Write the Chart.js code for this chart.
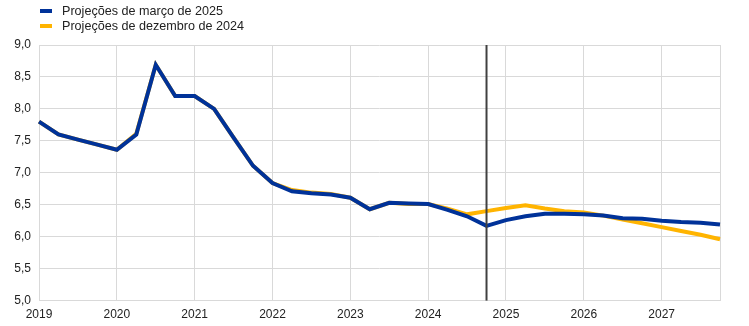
<!DOCTYPE html>
<html>
<head>
<meta charset="utf-8">
<script src="https://cdn.jsdelivr.net/npm/chart.js@4/dist/chart.umd.min.js"></script>
<style>
  html, body { margin: 0; padding: 0; background: #fff; }
  #wrap { position: relative; width: 749px; height: 326px; }
  #legend { position: absolute; left: 40px; top: 4px; font: 12.6px "Liberation Sans", Arial, sans-serif; color: #222; }
  #legend div { height: 15px; line-height: 15px; white-space: nowrap; }
  #legend span { display: inline-block; width: 12px; height: 4px; margin-right: 10px; vertical-align: middle; position: relative; top: -1px; }
</style>
</head>
<body>
<div id="wrap">
  <div id="legend">
    <div><span style="background:#003299"></span>Projeções de março de 2025</div>
    <div><span style="background:#ffb400"></span>Projeções de dezembro de 2024</div>
  </div>
  <canvas id="chart" width="749" height="326"></canvas>
</div>
<script>
const years = ['2019', '2020', '2021', '2022', '2023', '2024', '2025', '2026', '2027'];
const quarters = years.flatMap(y => ['Q1', 'Q2', 'Q3', 'Q4'].map(q => y + q));

const march2025 = [
    7.80, 7.60, 7.52, 7.44,
    7.36, 7.60, 8.69, 8.20,
    8.20, 8.00, 7.55, 7.11,
    6.84, 6.71, 6.68, 6.66,
    6.61, 6.43, 6.53, 6.52,
    6.51, 6.42, 6.32, 6.17,
    6.26, 6.32, 6.36, 6.36,
    6.35, 6.33, 6.29, 6.28,
    6.25, 6.23, 6.22, 6.19
];

const december2024 = [
    7.80, 7.60, 7.52, 7.44,
    7.36, 7.61, 8.69, 8.20,
    8.20, 8.00, 7.55, 7.11,
    6.84, 6.73, 6.69, 6.67,
    6.61, 6.43, 6.53, 6.51,
    6.51, 6.44, 6.35, 6.40,
    6.45, 6.49, 6.44, 6.40,
    6.38, 6.33, 6.27, 6.21,
    6.15, 6.09, 6.03, 5.96
];

const cutoffQuarter = '2024Q4';
const gridColor = '#d9d9d9';

const cutoffLine = {
    id: 'cutoffLine',
    afterDatasetsDraw(chart) {
        const x = chart.scales.x.getPixelForValue(quarters.indexOf(cutoffQuarter));
        const { top, bottom } = chart.chartArea;
        const ctx = chart.ctx;
        ctx.save();
        ctx.strokeStyle = '#404040';
        ctx.lineWidth = 2;
        ctx.beginPath();
        ctx.moveTo(x, top);
        ctx.lineTo(x, bottom);
        ctx.stroke();
        ctx.restore();
    }
};

Chart.defaults.font.family = '"Liberation Sans", Arial, sans-serif';
Chart.defaults.font.size = 12;
Chart.defaults.color = '#222';

new Chart(document.getElementById('chart').getContext('2d'), {
    type: 'line',
    data: {
        labels: quarters,
        datasets: [
            {
                label: 'Projeções de março de 2025',
                data: march2025,
                borderColor: '#003299',
                borderWidth: 4,
                pointRadius: 0,
                tension: 0
            },
            {
                label: 'Projeções de dezembro de 2024',
                data: december2024,
                borderColor: '#ffb400',
                borderWidth: 4,
                pointRadius: 0,
                tension: 0
            }
        ]
    },
    options: {
        responsive: false,
        animation: false,
        layout: { padding: { left: 0, right: 29, top: 45, bottom: -3 } },
        plugins: {
            legend: { display: false },
            tooltip: { enabled: false }
        },
        scales: {
            x: {
                offset: false,
                grid: {
                    color: ctx => (ctx.index % 4 === 0 || ctx.index === quarters.length - 1) ? gridColor : 'transparent',
                    drawTicks: false
                },
                border: { color: gridColor },
                ticks: {
                    autoSkip: false,
                    maxRotation: 0,
                    padding: 7,
                    callback: (v, i) => i % 4 === 0 ? quarters[i].slice(0, 4) : ''
                }
            },
            y: {
                min: 5,
                max: 9,
                afterFit: scale => { scale.width = 39; },
                grid: { color: gridColor, drawTicks: false },
                border: { display: false },
                ticks: {
                    stepSize: 0.5,
                    padding: 8,
                    callback: v => v.toFixed(1).replace('.', ',')
                }
            }
        }
    },
    plugins: [cutoffLine]
});
</script>
</body>
</html>
